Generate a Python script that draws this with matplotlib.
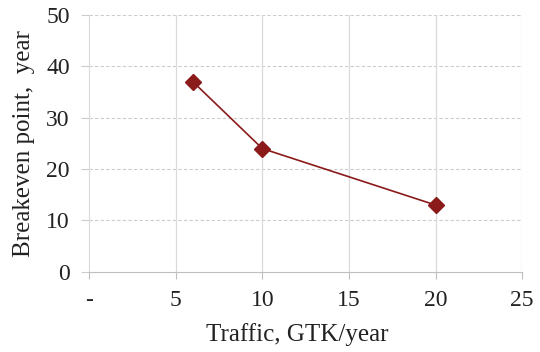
import matplotlib
matplotlib.use("Agg")
import matplotlib.pyplot as plt

traffic = [6, 10, 20]
breakeven = [37, 24, 13]
x_ticks = [0, 5, 10, 15, 20, 25]
x_tick_labels = ["-", "5", "10", "15", "20", "25"]
y_ticks = [0, 10, 20, 30, 40, 50]

plt.rcParams['font.family'] = ['Liberation Serif', 'DejaVu Serif']
plt.rcParams['font.size'] = 17

fig = plt.figure(figsize=(5.4, 3.52), dpi=100)
ax = fig.add_axes([0.165, 0.228, 0.802, 0.729])

ax.plot(traffic, breakeven, color='#8b1a1a', marker='D', markersize=8, linewidth=1.2, zorder=3)

ax.set_xlim(0, 25)
ax.set_ylim(0, 50)
ax.set_xticks(x_ticks)
ax.set_xticklabels(x_tick_labels)
ax.set_yticks(y_ticks)

for y in y_ticks[1:]:
    ax.axhline(y, color='#cccccc', linestyle=(0, (3, 2)), linewidth=0.8, zorder=1)
for x in x_ticks[1:]:
    ax.axvline(x, color='#d9d9d9', linestyle='-', linewidth=0.9, zorder=1)

for s in ['top', 'right']:
    ax.spines[s].set_visible(False)
ax.spines['bottom'].set_color('#bfbfbf')
ax.spines['left'].set_color('#d9d9d9')
ax.tick_params(axis='x', colors='#bfbfbf', labelcolor='#222222', length=5, direction='out', pad=8)
ax.tick_params(axis='y', colors='#cccccc', labelcolor='#222222', length=6, pad=8)

ax.set_xlabel('Traffic, GTK/year', color='#222222', fontsize=18, labelpad=10)
ax.xaxis.set_label_coords(0.48, -0.20)
ax.set_ylabel('Breakeven point,  year', color='#222222', fontsize=18, labelpad=8)

fig.savefig('out.png', dpi=100)
